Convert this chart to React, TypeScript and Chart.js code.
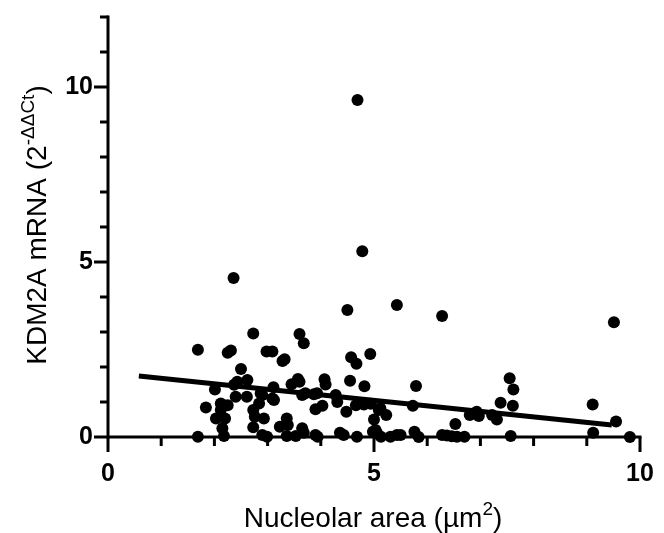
import React, { useEffect, useRef } from 'react';
import { Chart, registerables } from 'chart.js';

Chart.register(...registerables);

// Nucleolar area (µm²) for each sample
const areaX = [
  4.69, 4.78, 2.36, 4.5, 5.43, 6.28, 9.51, 2.73, 3.6, 3.68,
  2.25, 2.31, 1.69, 2.98, 3.09, 3.28, 3.32, 4.57, 4.67, 4.93,
  2.5, 2.43, 2.62, 2.37, 2.01, 2.4, 2.61, 2.87, 3.11, 3.12,
  3.45, 3.57, 3.6, 3.65, 3.87, 3.93, 4.07, 4.09, 4.03, 3.9,
  4.28, 4.31, 4.55, 4.82, 4.48, 4.66, 4.81, 4.94, 5.09, 5.0,
  5.03, 1.84, 2.12, 2.15, 2.25, 2.12, 2.03, 2.2, 2.15, 2.18,
  1.69, 2.73, 2.76, 2.84, 2.93, 2.73, 2.9, 2.99, 3.23, 3.36,
  3.38, 3.36, 3.53, 3.65, 3.9, 3.94, 4.36, 4.43, 4.68, 4.98,
  5.12, 5.23, 5.06, 5.13, 5.31, 5.43, 5.5, 5.79, 5.73, 5.76,
  5.84, 6.28, 6.37, 6.46, 6.56, 6.7, 6.53, 6.8, 6.93, 6.97,
  7.22, 7.31, 7.38, 7.55, 7.62, 7.61, 7.57, 9.11, 9.12, 9.55,
  9.81, 3.71, 3.68, 3.09, 2.9,
];

// KDM2A mRNA (2^-ΔΔCt) for each sample
const mrnaY = [
  9.63, 5.31, 4.54, 3.63, 3.77, 3.46, 3.28, 2.96, 2.94, 2.68,
  2.41, 2.47, 2.49, 2.44, 2.44, 2.17, 2.22, 2.28, 2.09, 2.37,
  1.94, 1.58, 1.63, 1.49, 1.36, 1.15, 1.15, 1.25, 1.42, 1.06,
  1.51, 1.66, 1.58, 1.2, 1.22, 1.25, 1.65, 1.5, 0.89, 0.79,
  1.2, 1.0, 1.61, 1.45, 0.72, 0.91, 0.93, 0.95, 0.77, 0.5,
  0.2, 0.84, 0.96, 0.89, 0.91, 0.77, 0.53, 0.53, 0.25, 0.03,
  0.01, 0.77, 0.58, 0.96, 0.53, 0.28, 0.06, 0.01, 0.29, 0.53,
  0.34, 0.03, 0.03, 0.25, 0.06, 0.01, 0.12, 0.06, 0.01, 0.15,
  0.82, 0.63, 0.1, 0.01, 0.01, 0.06, 0.06, 1.46, 0.89, 0.15,
  0.0, 0.06, 0.04, 0.02, 0.01, 0.01, 0.37, 0.63, 0.72, 0.6,
  0.63, 0.5, 0.98, 1.68, 1.36, 0.89, 0.03, 0.93, 0.12, 0.44,
  0.0, 1.25, 0.12, 1.1, 1.2,
];

// Linear regression line end points
const fitX = [0.58, 9.47];
const fitY = [1.74, 0.34];

// Axis tick values (labelled every 5, minor ticks every 1)
const xMinorTicks = [0, 1, 2, 3, 4, 5, 6, 7, 8, 9, 10];
const yMinorTicks = [0, 1, 2, 3, 4, 5, 6, 7, 8, 9, 10, 11, 12];
const xRange = [0, 10];
const yRange = [0, 12];

const FONT = '"Liberation Sans", Arial, Helvetica, sans-serif';

const axesPlugin = {
  id: 'prismAxes',
  beforeDatasetsDraw(chart: any) {
    const { ctx, scales } = chart;
    const x = scales.x;
    const y = scales.y;
    const x0 = x.getPixelForValue(xRange[0]);
    const x1 = x.getPixelForValue(xRange[1]);
    const y0 = y.getPixelForValue(yRange[0]);
    const y1 = y.getPixelForValue(yRange[1]);
    ctx.save();
    ctx.strokeStyle = '#000';
    ctx.lineWidth = 3;
    ctx.lineCap = 'square';
    ctx.beginPath();
    ctx.moveTo(x0, y1);
    ctx.lineTo(x0, y0);
    ctx.lineTo(x1, y0);
    ctx.stroke();
    ctx.lineCap = 'butt';
    yMinorTicks.forEach((v) => {
      const len = v % 5 === 0 ? 14 : 8;
      const py = y.getPixelForValue(v);
      ctx.beginPath();
      ctx.moveTo(x0 - len, py);
      ctx.lineTo(x0, py);
      ctx.stroke();
    });
    xMinorTicks.forEach((v) => {
      const len = v % 5 === 0 ? 15 : 9;
      const px = x.getPixelForValue(v);
      ctx.beginPath();
      ctx.moveTo(px, y0);
      ctx.lineTo(px, y0 + len);
      ctx.stroke();
    });
    ctx.restore();
  },
  afterDraw(chart: any) {
    const { ctx } = chart;
    ctx.save();
    ctx.fillStyle = '#000';
    ctx.textBaseline = 'alphabetic';
    // X title with superscript
    const mainSize = 28;
    const supSize = 19;
    const xa = 'Nucleolar area (µm';
    const xs = '2';
    const xc = ')';
    ctx.font = `${mainSize}px ${FONT}`;
    const wa = ctx.measureText(xa).width;
    const wc = ctx.measureText(xc).width;
    ctx.font = `${supSize}px ${FONT}`;
    const ws = ctx.measureText(xs).width;
    const totalX = wa + ws + wc;
    let sx = 373 - totalX / 2;
    const by = 527;
    ctx.font = `${mainSize}px ${FONT}`;
    ctx.fillText(xa, sx, by);
    sx += wa;
    ctx.font = `${supSize}px ${FONT}`;
    ctx.fillText(xs, sx, by - 12);
    sx += ws;
    ctx.font = `${mainSize}px ${FONT}`;
    ctx.fillText(xc, sx, by);

    // Y title rotated
    const ya = 'KDM2A mRNA (2';
    const ys = '-ΔΔCt';
    const yc = ')';
    ctx.font = `${mainSize}px ${FONT}`;
    const wya = ctx.measureText(ya).width;
    const wyc = ctx.measureText(yc).width;
    ctx.font = `${supSize}px ${FONT}`;
    const wys = ctx.measureText(ys).width;
    const totalY = wya + wys + wyc;
    ctx.translate(46, 225);
    ctx.rotate(-Math.PI / 2);
    let tx = -totalY / 2;
    ctx.font = `${mainSize}px ${FONT}`;
    ctx.fillText(ya, tx, 0);
    tx += wya;
    ctx.font = `${supSize}px ${FONT}`;
    ctx.fillText(ys, tx, -12);
    tx += wys;
    ctx.font = `${mainSize}px ${FONT}`;
    ctx.fillText(yc, tx, 0);
    ctx.restore();
  },
};

export default function App() {
  const canvasRef = useRef<HTMLCanvasElement | null>(null);

  useEffect(() => {
    document.body.style.margin = '0';
    const canvas = canvasRef.current;
    if (!canvas) return;
    const points = areaX.map((v, i) => ({ x: v, y: mrnaY[i] }));
    const fit = fitX.map((v, i) => ({ x: v, y: fitY[i] }));
    const chart = new Chart(canvas, {
      type: 'scatter',
      data: {
        datasets: [
          {
            type: 'line',
            data: fit,
            borderColor: '#000',
            borderWidth: 5,
            pointRadius: 0,
            fill: false,
            clip: false,
          } as any,
          {
            type: 'scatter',
            data: points,
            backgroundColor: '#000',
            borderWidth: 0,
            pointRadius: 6,
            pointHoverRadius: 6,
            clip: false,
          } as any,
        ],
      },
      options: {
        responsive: false,
        animation: false,
        events: [],
        layout: { padding: { top: 17, right: 24, left: 0, bottom: 0 } },
        plugins: {
          legend: { display: false },
          tooltip: { enabled: false },
        },
        scales: {
          x: {
            type: 'linear',
            min: xRange[0],
            max: xRange[1],
            grid: { display: false, drawTicks: false },
            border: { display: false },
            ticks: {
              stepSize: 5,
              includeBounds: false,
              autoSkip: false,
              maxRotation: 0,
              padding: 22,
              color: '#000',
              font: { family: FONT, size: 25, weight: 'bold' },
            },
            afterFit: (s: any) => {
              s.height = 96;
              s.paddingLeft = 0;
              s.paddingRight = 0;
            },
          },
          y: {
            type: 'linear',
            min: yRange[0],
            max: yRange[1],
            grid: { display: false, drawTicks: false },
            border: { display: false },
            ticks: {
              stepSize: 5,
              includeBounds: false,
              autoSkip: false,
              padding: 15,
              color: '#000',
              font: { family: FONT, size: 25, weight: 'bold' },
            },
            afterFit: (s: any) => {
              s.width = 108;
              s.paddingTop = 0;
              s.paddingBottom = 0;
            },
          },
        },
      } as any,
      plugins: [axesPlugin],
    });
    return () => chart.destroy();
  }, []);

  return (
    <div style={{ width: 664, height: 533 }}>
      <canvas ref={canvasRef} width={664} height={533} />
    </div>
  );
}
